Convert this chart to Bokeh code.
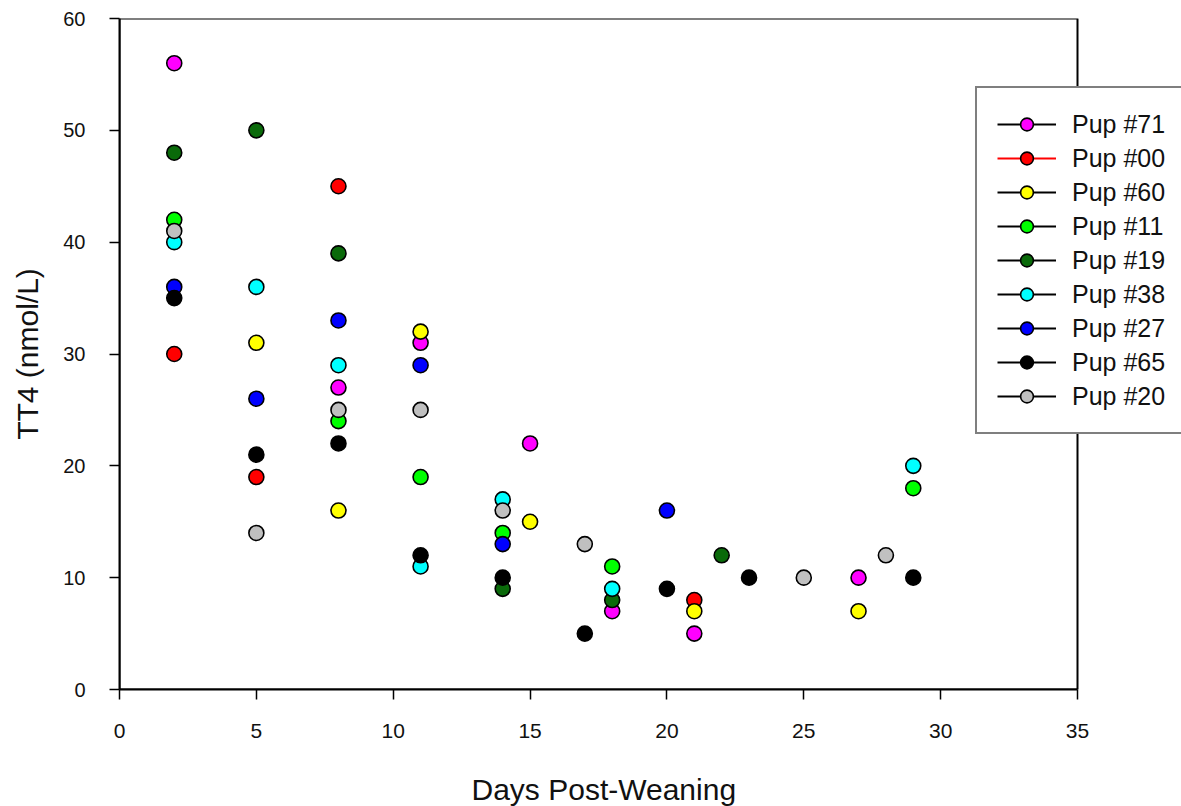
from bokeh.plotting import figure
from bokeh.models import (Range1d, FixedTicker, Legend, LegendItem, ColumnDataSource,
                          BoxAnnotation, Title)
from bokeh.embed import file_html
from bokeh.resources import INLINE

# Data
pups = ["Pup #71", "Pup #00", "Pup #60", "Pup #11", "Pup #19",
        "Pup #38", "Pup #27", "Pup #65", "Pup #20"]
colors = ["#FF00FF", "#FF0000", "#FFFF00", "#00FF00", "#0A6A0A",
          "#00FFFF", "#0000FF", "#000000", "#C0C0C0"]
legend_line_colors = ["black", "#FF0000", "black", "black", "black",
                      "black", "black", "black", "black"]

days_71 = [2, 8, 11, 15, 18, 21, 27]
tt4_71 = [56, 27, 31, 22, 7, 5, 10]
days_00 = [2, 5, 8, 21]
tt4_00 = [30, 19, 45, 8]
days_60 = [5, 8, 11, 15, 21, 27]
tt4_60 = [31, 16, 32, 15, 7, 7]
days_11 = [2, 8, 11, 14, 18, 29]
tt4_11 = [42, 24, 19, 14, 11, 18]
days_19 = [2, 5, 8, 14, 18, 22]
tt4_19 = [48, 50, 39, 9, 8, 12]
days_38 = [2, 5, 8, 11, 14, 18, 29]
tt4_38 = [40, 36, 29, 11, 17, 9, 20]
days_27 = [2, 5, 8, 11, 14, 20]
tt4_27 = [36, 26, 33, 29, 13, 16]
days_65 = [2, 5, 8, 11, 14, 17, 20, 23, 29]
tt4_65 = [35, 21, 22, 12, 10, 5, 9, 10, 10]
days_20 = [2, 5, 8, 11, 14, 17, 25, 28]
tt4_20 = [41, 14, 25, 25, 16, 13, 10, 12]

series_x = [days_71, days_00, days_60, days_11, days_19, days_38, days_27, days_65, days_20]
series_y = [tt4_71, tt4_00, tt4_60, tt4_11, tt4_19, tt4_38, tt4_27, tt4_65, tt4_20]

x_ticks = [0, 5, 10, 15, 20, 25, 30, 35]
y_ticks = [0, 10, 20, 30, 40, 50, 60]
X_MAX, Y_MAX = 35, 60

FONT = "Liberation Sans"

W, H = 1181, 806
LEFT, TOP, BOTTOM = 119, 18, 117
AXIS_RIGHT_PX = 1077  # pixel where x = 35 sits
x_end = X_MAX * (W - LEFT) / (AXIS_RIGHT_PX - LEFT)

p = figure(width=W, height=H, output_backend="svg", toolbar_location=None,
           x_range=Range1d(0, x_end), y_range=Range1d(0, Y_MAX),
           min_border_left=LEFT, min_border_right=0, min_border_top=TOP,
           min_border_bottom=BOTTOM)

p.xgrid.visible = False
p.ygrid.visible = False
p.outline_line_color = None
p.background_fill_color = "white"
p.border_fill_color = "white"

for ax, ticks in ((p.xaxis[0], x_ticks), (p.yaxis[0], y_ticks)):
    ax.ticker = FixedTicker(ticks=ticks)
    ax.minor_tick_line_color = None
    ax.major_tick_in = 0
    ax.major_tick_out = 10
    ax.major_tick_line_width = 1.5
    ax.major_tick_line_color = "black"
    ax.axis_line_width = 2
    ax.axis_line_color = "black"
    ax.major_label_text_font = FONT
    ax.major_label_text_color = "#111111"
    ax.axis_label_text_font = FONT
    ax.axis_label_text_font_style = "normal"
    ax.axis_label_text_color = "#111111"

p.xaxis.bounds = (0, X_MAX)
p.xaxis.major_label_text_font_size = "21px"
p.yaxis.major_label_text_font_size = "20px"
p.yaxis.axis_label_text_font_size = "30px"
p.yaxis.axis_label = "TT4 (nmol/L)"
p.xaxis.major_label_standoff = 24
p.yaxis.major_label_standoff = 24
p.yaxis.axis_label_standoff = 16
# blank spacer label: pushes the x title (below) further down
p.xaxis.axis_label = " "
p.xaxis.axis_label_text_font_size = "10px"
p.xaxis.axis_label_standoff = 16

# x-axis title, placed under the centre of the 0..35 span of the axis
x_title = Title(text="Days Post-Weaning", align="left", offset=352,
                text_font=FONT, text_font_size="30px", text_font_style="normal",
                text_color="#111111", standoff=0)
p.add_layout(x_title, "below")

# plot box (frame border ending at x = 35)
frame_box = BoxAnnotation(left=0, right=X_MAX, bottom=0, top=Y_MAX,
                          fill_alpha=0, line_color="black", line_alpha=1.0,
                          line_width=2, level="underlay")
p.add_layout(frame_box)

nan = float("nan")
items = []
for name, xs, ys, c, lc in zip(pups, series_x, series_y, colors, legend_line_colors):
    src = ColumnDataSource(data=dict(x=xs, y=ys))
    # legend-only line sample (no visible line in the plot)
    proxy = ColumnDataSource(data=dict(x=[nan], y=[nan]))
    ln = p.line("x", "y", source=proxy, line_color=lc, line_width=2)
    sc = p.scatter("x", "y", source=src, marker="circle", size=15,
                   fill_color=c, line_color="black", line_width=1.6)
    items.append(LegendItem(label=name, renderers=[ln, sc]))

legend = Legend(items=items, location=(856, 255))
legend.border_line_color = "black"
legend.border_line_width = 2
legend.background_fill_color = "white"
legend.background_fill_alpha = 1.0
legend.label_text_font = FONT
legend.label_text_font_size = "25px"
legend.label_text_color = "#111111"
legend.glyph_width = 59
legend.glyph_height = 32
legend.label_height = 32
legend.spacing = 2
legend.padding = 20
legend.margin = 0
legend.label_standoff = 16
p.add_layout(legend, "center")

open("out.html", "w").write(file_html(p, INLINE))
